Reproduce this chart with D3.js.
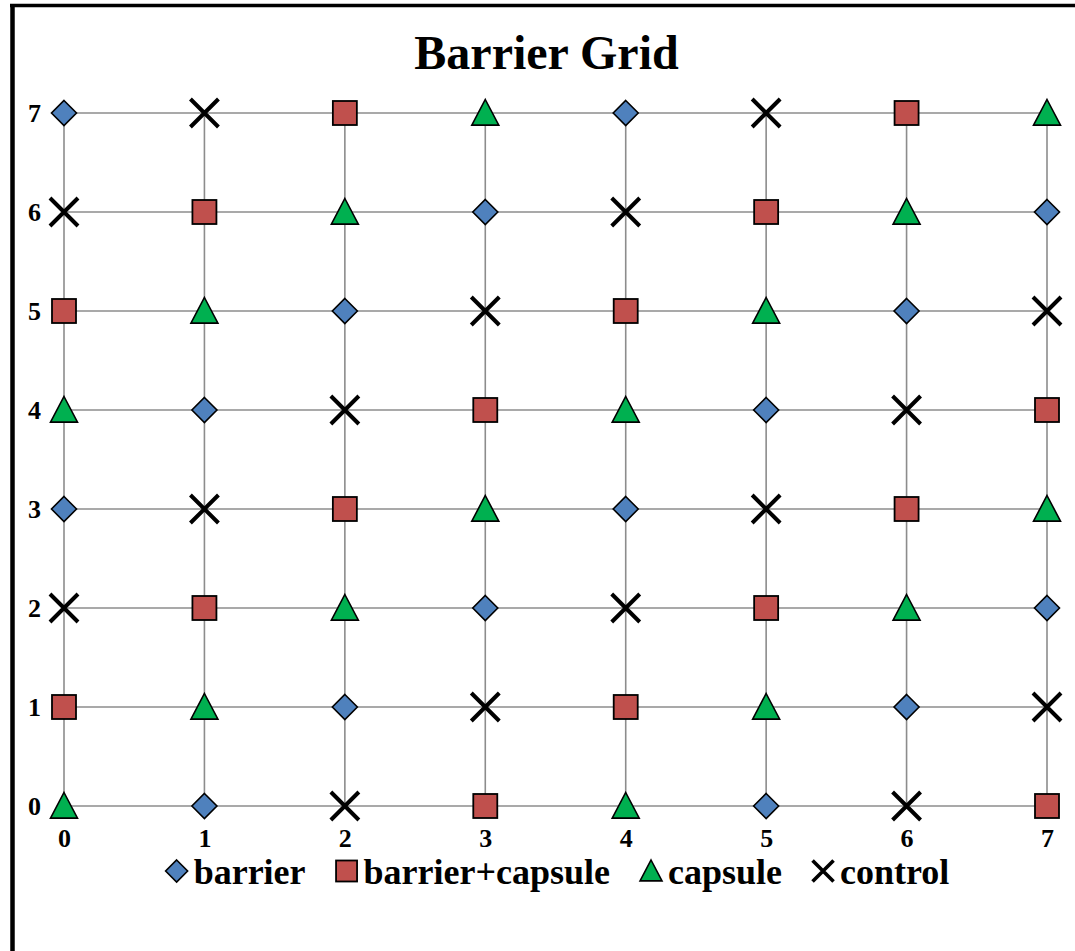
<!DOCTYPE html>
<html>
<head>
<meta charset="utf-8">
<script src="https://cdn.jsdelivr.net/npm/d3@7/dist/d3.min.js"></script>
<style>
  html, body { margin: 0; padding: 0; background: #fff; }
  svg { display: block; }
</style>
</head>
<body>
<svg id="chart" width="1075" height="951"></svg>
<script>
// ---- data ----
const title = "Barrier Grid";
const xTicks = [0, 1, 2, 3, 4, 5, 6, 7];
const yTicks = [0, 1, 2, 3, 4, 5, 6, 7];
const treatments = ["barrier", "barrier+capsule", "capsule", "control"];
const treatmentColors = ["#4F81BD", "#C0504D", "#00B050", "#000000"];
// treatment at each cell, one array per grid row (y = 0 .. 7), columns x = 0 .. 7
const row0 = ["capsule", "barrier", "control", "barrier+capsule", "capsule", "barrier", "control", "barrier+capsule"];
const row1 = ["barrier+capsule", "capsule", "barrier", "control", "barrier+capsule", "capsule", "barrier", "control"];
const row2 = ["control", "barrier+capsule", "capsule", "barrier", "control", "barrier+capsule", "capsule", "barrier"];
const row3 = ["barrier", "control", "barrier+capsule", "capsule", "barrier", "control", "barrier+capsule", "capsule"];
const row4 = ["capsule", "barrier", "control", "barrier+capsule", "capsule", "barrier", "control", "barrier+capsule"];
const row5 = ["barrier+capsule", "capsule", "barrier", "control", "barrier+capsule", "capsule", "barrier", "control"];
const row6 = ["control", "barrier+capsule", "capsule", "barrier", "control", "barrier+capsule", "capsule", "barrier"];
const row7 = ["barrier", "control", "barrier+capsule", "capsule", "barrier", "control", "barrier+capsule", "capsule"];
const rows = [row0, row1, row2, row3, row4, row5, row6, row7];

// ---- build points ----
const points = [];
rows.forEach((r, yi) => r.forEach((t, xi) => points.push({ x: xTicks[xi], y: yTicks[yi], t })));

const FONT = "'Liberation Serif', 'Times New Roman', Times, serif";
const svg = d3.select("#chart");
const W = 1075, H = 951;

const x = d3.scaleLinear().domain([0, 7]).range([64, 1047]);
const y = d3.scaleLinear().domain([0, 7]).range([806, 113]);
const color = d3.scaleOrdinal().domain(treatments).range(treatmentColors);

// frame (left and top borders visible)
svg.append("line").attr("x1", 12.5).attr("x2", 12.5).attr("y1", 4).attr("y2", H)
  .attr("stroke", "#000").attr("stroke-width", 4.5);
svg.append("line").attr("x1", 10).attr("x2", W).attr("y1", 5.5).attr("y2", 5.5)
  .attr("stroke", "#000").attr("stroke-width", 3.5);

// title
svg.append("text").attr("x", 546.5).attr("y", 69).attr("text-anchor", "middle")
  .style("font-family", FONT).style("font-weight", "bold").style("font-size", "48px").text(title);

// grid lines
const grid = svg.append("g").attr("stroke", "#8c8c8c").attr("stroke-width", 1.6);
grid.selectAll(".h").data(yTicks).join("line")
  .attr("x1", x(0)).attr("x2", x(7)).attr("y1", d => y(d)).attr("y2", d => y(d));
grid.selectAll(".v").data(xTicks).join("line")
  .attr("y1", y(0)).attr("y2", y(7)).attr("x1", d => x(d)).attr("x2", d => x(d));

// axes (tick labels only)
const xAxis = d3.axisBottom(x).tickValues(xTicks).tickFormat(d3.format("d")).tickSize(0).tickPadding(0);
const gx = svg.append("g").attr("transform", `translate(0,${y(0) + 23})`).call(xAxis);
gx.select(".domain").remove();
gx.selectAll("text").style("font-family", FONT).style("font-weight", "bold")
  .style("font-size", "26px").attr("dy", "0.69em").attr("y", 0).attr("fill", "#000");

const yAxis = d3.axisLeft(y).tickValues(yTicks).tickFormat(d3.format("d")).tickSize(0).tickPadding(0);
const gy = svg.append("g").attr("transform", `translate(41,0)`).call(yAxis);
gy.select(".domain").remove();
gy.selectAll("text").style("font-family", FONT).style("font-weight", "bold")
  .style("font-size", "26px").attr("dy", "0.34em").attr("x", 0).attr("fill", "#000");

// marker drawing
function drawMarker(g, t, legendSize) {
  const c = color(t);
  if (t === "barrier") {
    const h = legendSize ? 11 : 12.5;
    g.append("path").attr("d", `M0,${-h}L${h},0L0,${h}L${-h},0Z`)
      .attr("fill", c).attr("stroke", "#000").attr("stroke-width", 1.6);
  } else if (t === "barrier+capsule") {
    const h = legendSize ? 10.5 : 12;
    g.append("rect").attr("x", -h).attr("y", -h).attr("width", 2 * h).attr("height", 2 * h)
      .attr("fill", c).attr("stroke", "#000").attr("stroke-width", 1.8);
  } else if (t === "capsule") {
    const w = legendSize ? 11 : 13.5;
    g.append("path").attr("d", `M0,${-w}L${w},${w * 0.9}L${-w},${w * 0.9}Z`)
      .attr("fill", c).attr("stroke", "#000").attr("stroke-width", 1.6);
  } else {
    const h = legendSize ? 10.5 : 14;
    g.append("path").attr("d", `M${-h},${-h}L${h},${h}M${-h},${h}L${h},${-h}`)
      .attr("stroke", c).attr("stroke-width", legendSize ? 3.6 : 4).attr("fill", "none");
  }
}

// points
svg.append("g").selectAll("g").data(points).join("g")
  .attr("transform", d => `translate(${x(d.x)},${y(d.y)})`)
  .each(function (d) { drawMarker(d3.select(this), d.t, false); });

// legend
const legend = svg.append("g");
let cx = 0;
const GAP = 30;
treatments.forEach((t) => {
  const g = legend.append("g");
  const mg = g.append("g").attr("transform", `translate(11,-13)`);
  drawMarker(mg, t, true);
  const tx = g.append("text").attr("x", 28).attr("y", 0)
    .style("font-family", FONT).style("font-weight", "bold").style("font-size", "36px")
    .attr("fill", "#000").text(t);
  const tw = tx.node().getComputedTextLength();
  g.attr("transform", `translate(${cx},0)`);
  cx += 28 + tw + GAP;
});
const totalW = cx - GAP;
legend.attr("transform", `translate(${557.5 - totalW / 2},884)`);
</script>
</body>
</html>
